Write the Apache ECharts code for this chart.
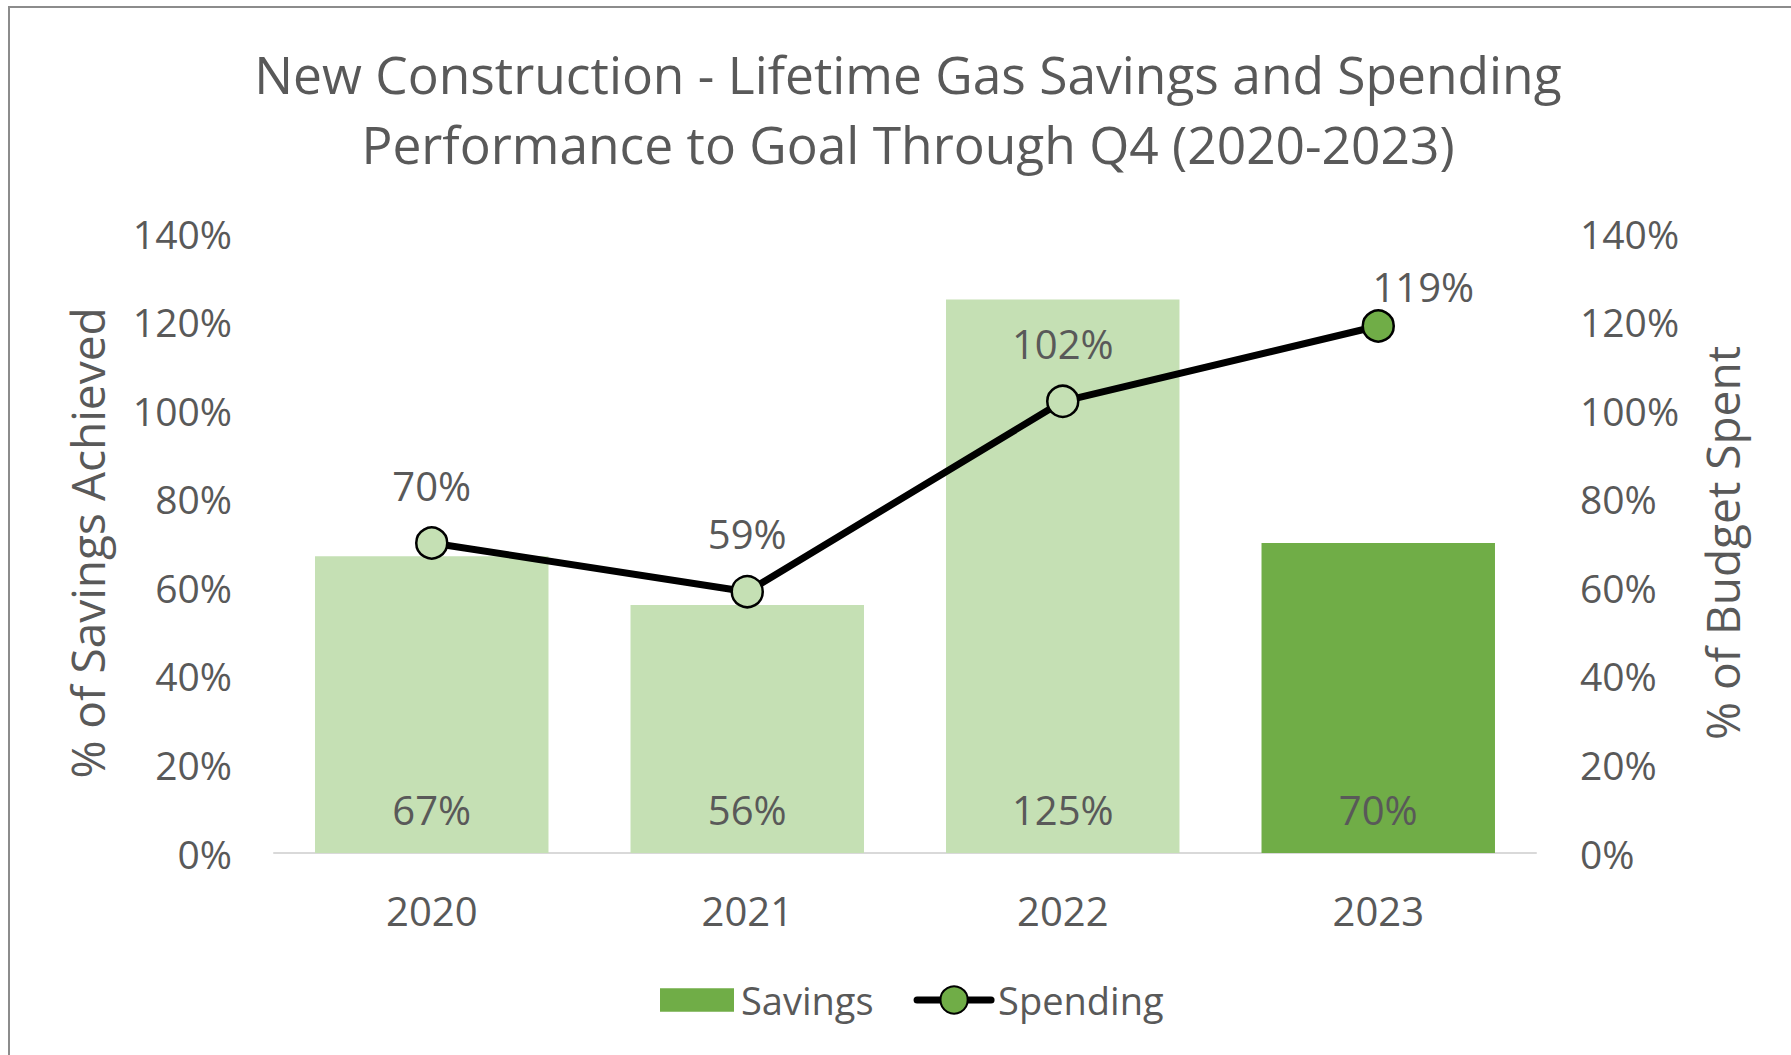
<!DOCTYPE html>
<html>
<head>
<meta charset="utf-8">
<script src="https://cdn.jsdelivr.net/npm/echarts@6/dist/echarts.min.js"></script>
<style>
  html, body { margin: 0; padding: 0; background: #fff; }
  #frame { position: absolute; left: 8px; top: 6px; width: 1800px; height: 1060px;
           border-left: 2px solid #8c8c8c; border-top: 2px solid #8c8c8c; }
  #chart { position: absolute; left: 0; top: 0; width: 1791px; height: 1055px; }
</style>
</head>
<body>
<div id="frame"></div>
<div id="chart"></div>
<script>
(function() {
  var years = ['2020', '2021', '2022', '2023'];
  var savings = [0.67, 0.56, 1.25, 0.70];
  var spending = [0.70, 0.59, 1.02, 1.19];
  var lightGreen = '#C5E0B4';
  var darkGreen = '#70AD47';
  var ink = '#595959';
  var font = '"Open Sans", "Noto Sans", sans-serif';

  function pct(v) { return Math.round(v * 100) + '%'; }

  // past years light, current year dark
  var barData = savings.map(function(v, i) {
    return { value: v, itemStyle: { color: i === savings.length - 1 ? darkGreen : lightGreen } };
  });
  var lineData = spending.map(function(v, i) {
    var last = i === spending.length - 1;
    var item = { value: v, itemStyle: { color: last ? darkGreen : lightGreen } };
    if (last) item.label = { offset: [45, 18] };
    return item;
  });

  var valueAxis = {
    type: 'value',
    min: 0,
    max: 1.4,
    interval: 0.2,
    nameLocation: 'middle',
    nameRotate: 90,
    nameTextStyle: { color: ink, fontSize: 46, fontFamily: font },
    axisLine: { show: false },
    axisTick: { show: false },
    splitLine: { show: false },
    axisLabel: { color: ink, fontSize: 39, fontFamily: font, formatter: pct }
  };

  var chart = echarts.init(document.getElementById('chart'), null, { renderer: 'svg' });
  chart.setOption({
    animation: false,
    title: {
      text: 'New Construction - Lifetime Gas Savings and Spending\nPerformance to Goal Through Q4 (2020-2023)',
      left: 903,
      top: 34,
      textAlign: 'center',
      textStyle: { color: ink, fontSize: 51.5, fontWeight: 'normal', fontFamily: font, lineHeight: 70 }
    },
    grid: { left: 274, right: 255, top: 233, bottom: 202 },
    legend: {
      bottom: 31,
      left: 655,
      itemWidth: 74,
      itemHeight: 34,
      itemGap: 40,
      textStyle: { color: ink, fontSize: 38, fontFamily: font, padding: [0, 0, 0, 2] },
      data: [
        { name: 'Savings', icon: 'path://M0,0H72V23H0Z' },
        { name: 'Spending', lineStyle: { width: 7, color: '#000', cap: 'round' } }
      ]
    },
    xAxis: {
      type: 'category',
      data: years,
      axisLine: { lineStyle: { color: '#D9D9D9', width: 2 } },
      axisTick: { show: false },
      axisLabel: { color: ink, fontSize: 40, fontFamily: font, margin: 37 }
    },
    yAxis: [
      Object.assign({}, valueAxis, { name: '% of Savings Achieved', nameGap: 164, position: 'left',
        axisLabel: Object.assign({}, valueAxis.axisLabel, { margin: 42 }) }),
      Object.assign({}, valueAxis, { name: '% of Budget Spent', nameGap: 163, position: 'right',
        axisLabel: Object.assign({}, valueAxis.axisLabel, { margin: 44 }) })
    ],
    series: [
      {
        name: 'Savings',
        type: 'bar',
        yAxisIndex: 0,
        barCategoryGap: '26%',
        data: barData,
        itemStyle: { color: darkGreen },
        label: {
          show: true, position: 'insideBottom', distance: 24,
          color: ink, fontSize: 40, fontFamily: font,
          formatter: function(p) { return pct(p.value); }
        }
      },
      {
        name: 'Spending',
        type: 'line',
        yAxisIndex: 1,
        data: lineData,
        symbol: 'circle',
        symbolSize: 31,
        lineStyle: { color: '#000', width: 7 },
        itemStyle: { color: darkGreen, borderColor: '#000', borderWidth: 2.5 },
        label: {
          show: true, position: 'top', distance: 21,
          color: ink, fontSize: 40, fontFamily: font,
          formatter: function(p) { return pct(p.value); }
        },
        z: 5
      }
    ]
  });
})();
</script>
</body>
</html>
